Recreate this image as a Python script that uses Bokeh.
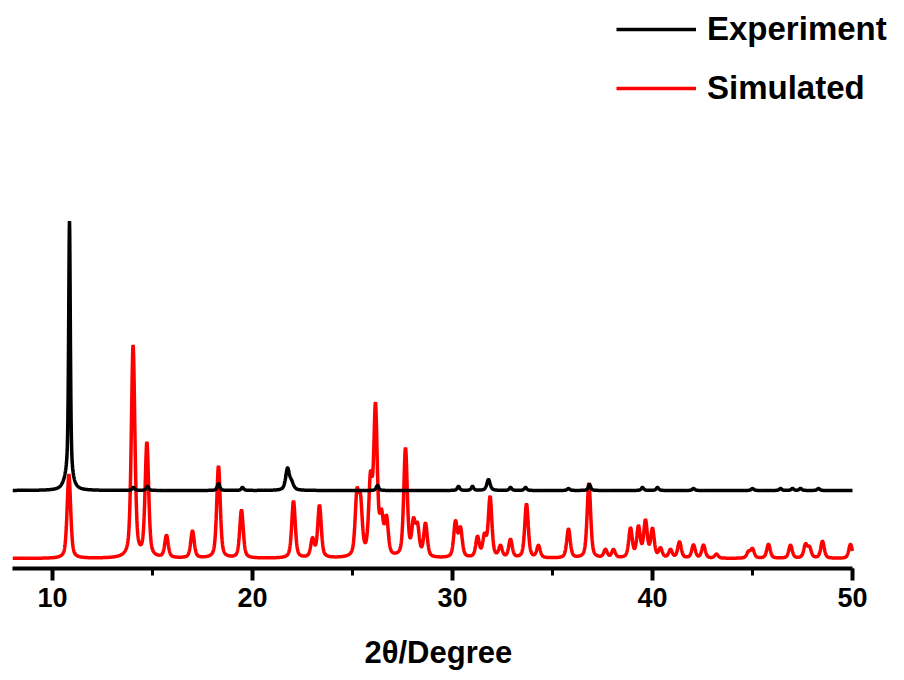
import numpy as np
from bokeh.plotting import figure
from bokeh.models import Range1d, SingleIntervalTicker, Legend, LegendItem, Title
from bokeh.embed import file_html
from bokeh.resources import INLINE

# Peak tables (2theta in degrees, intensity in a.u., FWHM in degrees)
exp_pos = [10.85, 10.80, 14.05, 14.75, 18.30, 19.50, 21.75, 21.95, 26.25, 30.30,
           31.00, 31.80, 32.90, 33.65, 35.80, 36.85, 39.50, 40.25, 42.05, 45.00,
           46.40, 47.00, 47.40, 48.30]
exp_height = [255, 15, 3, 4, 7, 3, 21, 7, 5, 4,
              4, 11, 3, 3, 2, 6, 3, 3, 2, 2,
              2, 2, 2, 2]
exp_fwhm = [0.10, 0.45, 0.15, 0.15, 0.15, 0.15, 0.22, 0.25, 0.15, 0.15,
            0.15, 0.2, 0.15, 0.15, 0.15, 0.15, 0.15, 0.15, 0.15, 0.15,
            0.15, 0.15, 0.15, 0.15]

sim_pos = [10.82, 14.03, 14.72, 15.70, 17.00, 18.30, 19.45, 22.05, 23.00, 23.35,
           25.22, 25.40, 25.90, 26.15, 26.45, 26.70, 27.65, 28.05, 28.25, 28.65,
           30.15, 30.40, 31.25, 31.60, 31.88, 32.40, 32.90, 33.70, 34.30, 35.80,
           36.82, 37.65, 38.05, 38.90, 39.30, 39.65, 40.00, 40.40, 40.90, 41.35,
           42.05, 42.55, 43.20, 44.80, 45.00, 45.80, 46.90, 47.65, 47.85, 48.50,
           49.90]
sim_height = [84, 212, 114, 22, 27, 92, 48, 57, 18, 52,
              58, 50, 72, 146, 36, 36, 108, 32, 28, 33,
              35, 28, 20, 20, 60, 11, 18, 54, 12, 29,
              75, 8, 8, 29, 30, 36, 28, 9, 8, 16,
              13, 13, 4, 6, 9, 14, 13, 13, 10, 17,
              14]
sim_fwhm = 0.21

exp_offset = 78
sim_offset = 10

x_ticks_major = 10
x_start, x_end = 8, 50
px_per_degree = 20
x_title = "2θ/Degree"


def pseudo_voigt(x, pos, height, fwhm, eta=0.5):
    s = fwhm / 2.0
    lor = 1.0 / (1.0 + ((x - pos) / s) ** 2)
    gau = np.exp(-np.log(2) * ((x - pos) / s) ** 2)
    return height * (eta * lor + (1 - eta) * gau)


two_theta = np.linspace(x_start, x_end, 4201)

exp_y = np.full_like(two_theta, float(exp_offset))
for c, h, w in zip(exp_pos, exp_height, exp_fwhm):
    exp_y += pseudo_voigt(two_theta, c, h, w, eta=0.6)

sim_y = np.full_like(two_theta, float(sim_offset))
for c, h in zip(sim_pos, sim_height):
    sim_y += pseudo_voigt(two_theta, c, h, sim_fwhm, eta=0.5)

# frame runs to the right edge so the legend has room; the axis stops at 50
frame_w = 904 - 12
view_end = x_start + frame_w / px_per_degree

p = figure(width=904, height=680, output_backend="svg", toolbar_location=None,
           x_range=Range1d(x_start, view_end), y_range=Range1d(0, 568),
           y_axis_location=None, min_border_left=12, min_border_right=0,
           min_border_top=0, min_border_bottom=112)
p.outline_line_color = None
p.xgrid.visible = False
p.ygrid.visible = False
p.background_fill_color = "white"
p.border_fill_color = "white"

r_sim = p.line(two_theta, sim_y, line_color="#ff0000", line_width=3.5)
r_exp = p.line(two_theta, exp_y, line_color="#000000", line_width=3.5)

ax = p.xaxis[0]
ax.bounds = (x_start, x_end)
ax.ticker = SingleIntervalTicker(interval=x_ticks_major, num_minor_ticks=2)
ax.axis_line_width = 4
ax.axis_line_color = "black"
ax.major_tick_line_width = 4
ax.major_tick_out = 12
ax.major_tick_in = 0
ax.minor_tick_line_width = 3
ax.minor_tick_out = 7
ax.minor_tick_in = 0
ax.major_label_text_font = "Liberation Sans"
ax.major_label_text_font_style = "bold"
ax.major_label_text_font_size = "27px"
ax.major_label_text_color = "black"
ax.major_label_standoff = 7
# blank spacer label keeps a gap between the tick labels and the title
ax.axis_label = " "
ax.axis_label_text_font_size = "2px"
ax.axis_label_standoff = 18

# axis title below the axis, placed under the middle of the bounded axis
p.add_layout(Title(text=x_title, align="left", offset=352, standoff=0,
                   text_font="Liberation Sans", text_font_style="bold",
                   text_font_size="31px", text_color="black"), "below")

legend = Legend(items=[LegendItem(label="Experiment", renderers=[r_exp]),
                       LegendItem(label="Simulated", renderers=[r_sim])],
                location=(604, 461), orientation="vertical",
                border_line_color=None, background_fill_alpha=0,
                glyph_width=80, glyph_height=30, label_height=30,
                label_standoff=11, spacing=21, padding=0, margin=0,
                label_text_font="Liberation Sans", label_text_font_style="bold",
                label_text_font_size="33px", label_text_color="black")
p.add_layout(legend)

open("out.html", "w").write(file_html(p, INLINE))
